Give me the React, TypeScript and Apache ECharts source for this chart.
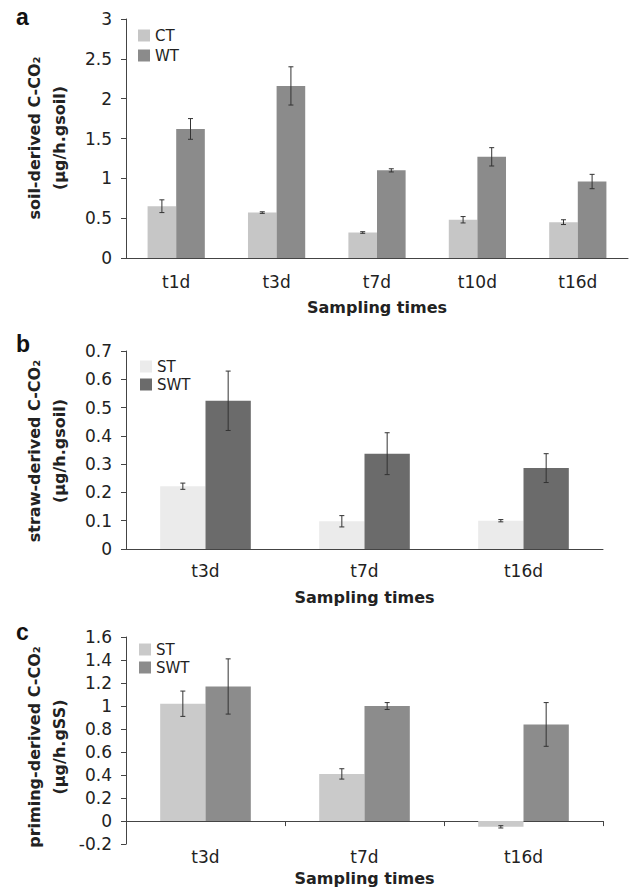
import React, { useEffect, useRef } from "react";
import * as echarts from "echarts";

// ---------- data ----------
const CATS_A = ["t1d", "t3d", "t7d", "t10d", "t16d"];
const CT = [0.65, 0.57, 0.32, 0.48, 0.45];
const CT_ERR = [0.08, 0.01, 0.01, 0.04, 0.03];
const WT = [1.62, 2.16, 1.1, 1.27, 0.96];
const WT_ERR = [0.13, 0.24, 0.02, 0.115, 0.09];

const CATS_B = ["t3d", "t7d", "t16d"];
const ST_B = [0.222, 0.098, 0.1];
const ST_B_ERR = [0.011, 0.02, 0.004];
const SWT_B = [0.524, 0.337, 0.286];
const SWT_B_ERR = [0.105, 0.074, 0.051];

const CATS_C = ["t3d", "t7d", "t16d"];
const ST_C = [1.02, 0.41, -0.05];
const ST_C_ERR = [0.11, 0.045, 0.01];
const SWT_C = [1.17, 1.0, 0.84];
const SWT_C_ERR = [0.24, 0.03, 0.19];

const Y_A = [0, 3, 0.5];
const Y_B = [0, 0.7, 0.1];
const Y_C = [-0.2, 1.6, 0.2];

const TITLE_A = ["soil-derived C-CO\u2082", "(\u00b5g/h.gsoil)"];
const TITLE_B = ["straw-derived C-CO\u2082", "(\u00b5g/h.gsoil)"];
const TITLE_C = ["priming-derived C-CO\u2082", "(\u00b5g/h.gSS)"];
const X_TITLE = "Sampling times";

// ---------- styling ----------
const FONT = "DejaVu Sans";
const AXIS_COLOR = "#444";
const TEXT_COLOR = "#222";
const GAP = 0.43;

function errSeries(values: number[], errs: number[], idx: number, xAxisIndex = 0) {
  return {
    type: "custom",
    xAxisIndex,
    yAxisIndex: 0,
    z: 10,
    silent: true,
    encode: { x: 0, y: [1, 2] },
    data: values.map((v, i) => [i, v - errs[i], v + errs[i]]),
    renderItem: (params: any, api: any) => {
      const i = api.value(0);
      const lo = api.coord([i, api.value(1)]);
      const hi = api.coord([i, api.value(2)]);
      const band = api.size([1, 0])[0];
      const bw = (band * (1 - GAP)) / 2;
      const x = lo[0] + (idx === 0 ? -bw / 2 : bw / 2);
      const cap = 2.5;
      const st = { stroke: "#333", lineWidth: 1 };
      return {
        type: "group",
        children: [
          { type: "line", shape: { x1: x, y1: lo[1], x2: x, y2: hi[1] }, style: st },
          { type: "line", shape: { x1: x - cap, y1: hi[1], x2: x + cap, y2: hi[1] }, style: st },
          { type: "line", shape: { x1: x - cap, y1: lo[1], x2: x + cap, y2: lo[1] }, style: st },
        ],
      };
    },
  };
}

function yTitle(lines: string[], cy: number) {
  return lines.map((t, k) => ({
    type: "text",
    x: 34 + k * 25,
    y: cy,
    rotation: Math.PI / 2,
    style: {
      text: t,
      font: `bold 16px "${FONT}"`,
      fill: TEXT_COLOR,
      textAlign: "center",
      textVerticalAlign: "middle",
    },
  }));
}

function letter(t: string, baseline: number) {
  return {
    type: "text",
    x: 16,
    y: baseline,
    style: {
      text: t,
      font: `bold 23px "Liberation Sans"`,
      fill: "#111",
      textAlign: "left",
      textVerticalAlign: "bottom",
    },
  };
}

function yAxis(r: number[]) {
  return {
    type: "value",
    min: r[0],
    max: r[1],
    interval: r[2],
    splitLine: { show: false },
    axisLine: { show: true, lineStyle: { color: AXIS_COLOR, width: 1 } },
    axisTick: { show: true, length: 5, lineStyle: { color: AXIS_COLOR } },
    axisLabel: { fontFamily: FONT, fontSize: 17, color: TEXT_COLOR, margin: 14 },
  };
}

function legend(names: string[], left: number, top: number, gap: number) {
  return {
    orient: "vertical",
    left,
    top,
    itemWidth: 12,
    itemHeight: 12,
    itemGap: gap,
    icon: "rect",
    data: names,
    textStyle: { fontFamily: FONT, fontSize: 15, color: TEXT_COLOR, padding: [0, 0, 0, 0] },
  };
}

function bar(name: string, data: number[], color: string, xAxisIndex = 0) {
  return {
    type: "bar",
    name,
    xAxisIndex,
    data,
    barGap: "0%",
    barCategoryGap: GAP * 100 + "%",
    itemStyle: { color },
  };
}

function optionA() {
  return {
    animation: false,
    grid: { left: 126, top: 19, width: 502, height: 241 },
    legend: legend(["CT", "WT"], 133, 23, 5),
    xAxis: {
      type: "category",
      data: CATS_A,
      axisLine: { lineStyle: { color: AXIS_COLOR } },
      axisTick: { length: 5, lineStyle: { color: AXIS_COLOR } },
      axisLabel: { fontFamily: FONT, fontSize: 17, color: TEXT_COLOR, margin: 15 },
      name: X_TITLE,
      nameLocation: "middle",
      nameGap: 41,
      nameTextStyle: { fontFamily: FONT, fontSize: 16, fontWeight: "bold", color: TEXT_COLOR },
    },
    yAxis: yAxis(Y_A),
    graphic: [letter("a", 28), ...yTitle(TITLE_A, 138)],
    series: [
      bar("CT", CT, "#c6c6c6"),
      bar("WT", WT, "#8b8b8b"),
      errSeries(CT, CT_ERR, 0),
      errSeries(WT, WT_ERR, 1),
    ],
  };
}

function optionB() {
  return {
    animation: false,
    grid: { left: 126, top: 31, width: 477, height: 200 },
    legend: legend(["ST", "SWT"], 135, 34, 3),
    xAxis: {
      type: "category",
      data: CATS_B,
      axisLine: { lineStyle: { color: AXIS_COLOR } },
      axisTick: { length: 5, lineStyle: { color: AXIS_COLOR } },
      axisLabel: { fontFamily: FONT, fontSize: 17, color: TEXT_COLOR, margin: 13 },
      name: X_TITLE,
      nameLocation: "middle",
      nameGap: 40,
      nameTextStyle: { fontFamily: FONT, fontSize: 16, fontWeight: "bold", color: TEXT_COLOR },
    },
    yAxis: yAxis(Y_B),
    graphic: [letter("b", 35), ...yTitle(TITLE_B, 131)],
    series: [
      bar("ST", ST_B, "#ebebeb"),
      bar("SWT", SWT_B, "#6b6b6b"),
      errSeries(ST_B, ST_B_ERR, 0),
      errSeries(SWT_B, SWT_B_ERR, 1),
    ],
  };
}

function optionC() {
  return {
    animation: false,
    grid: { left: 126, top: 27, width: 477, height: 220 },
    legend: legend(["ST", "SWT"], 134, 27, 3),
    xAxis: [
      {
        type: "category",
        data: CATS_C,
        position: "bottom",
        axisLine: { show: false, onZero: false },
        axisTick: { show: false },
        axisLabel: { fontFamily: FONT, fontSize: 17, color: TEXT_COLOR, margin: 4 },
        name: X_TITLE,
        nameLocation: "middle",
        nameGap: 24,
        nameTextStyle: { fontFamily: FONT, fontSize: 16, fontWeight: "bold", color: TEXT_COLOR },
      },
      {
        type: "category",
        data: CATS_C,
        position: "top",
        axisLine: { show: true, onZero: true, lineStyle: { color: AXIS_COLOR } },
        axisTick: { show: true, inside: true, length: 5, lineStyle: { color: AXIS_COLOR } },
        axisLabel: { show: false },
      },
    ],
    yAxis: yAxis(Y_C),
    graphic: [letter("c", 33), ...yTitle(TITLE_C, 137)],
    series: [
      bar("ST", ST_C, "#cacaca"),
      bar("SWT", SWT_C, "#8c8c8c"),
      errSeries(ST_C, ST_C_ERR, 0),
      errSeries(SWT_C, SWT_C_ERR, 1),
    ],
  };
}

function Panel({ top, height, option }: { top: number; height: number; option: any }) {
  const ref = useRef<HTMLDivElement>(null);
  useEffect(() => {
    if (!ref.current) return;
    const chart = echarts.init(ref.current, undefined, { renderer: "svg" });
    chart.setOption(option());
    return () => chart.dispose();
  }, []);
  return (
    <div
      ref={ref}
      style={{ position: "absolute", left: 0, top, width: 640, height }}
    />
  );
}

export default function App() {
  return (
    <div style={{ position: "fixed", left: 0, top: 0, width: 640, height: 891, background: "#fff" }}>
      <Panel top={0} height={320} option={optionA} />
      <Panel top={320} height={290} option={optionB} />
      <Panel top={610} height={281} option={optionC} />
    </div>
  );
}
